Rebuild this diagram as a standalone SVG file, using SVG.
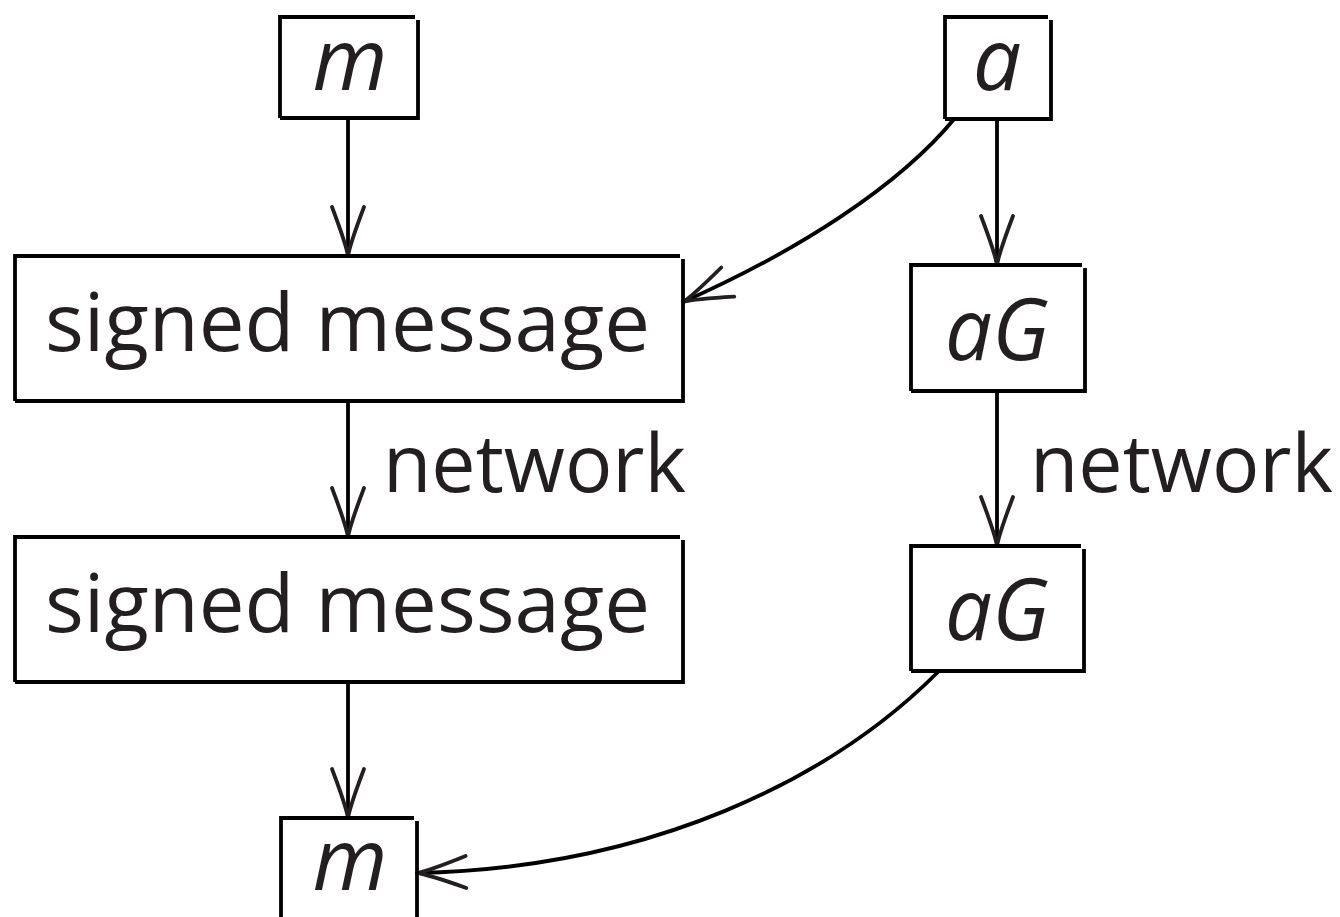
<svg xmlns="http://www.w3.org/2000/svg" width="1340" height="917" viewBox="0 0 1340 917">
  <defs>
    <style>
      .box { fill: none; stroke: #000; stroke-width: 3.8; stroke-linecap: butt; stroke-linejoin: miter; }
      .edge { fill: none; stroke: #000; stroke-width: 3.8; }
      .lbl { font-family: "Open Sans", "DejaVu Sans", sans-serif; font-size: 81px; fill: #231f20; }
      .math { font-family: "Open Sans", "DejaVu Sans", sans-serif; font-style: italic; font-size: 86px; fill: #231f20; }
    </style>
    <!-- TeX-style curved arrowhead, tip at the path end -->
    <marker id="tip" markerUnits="userSpaceOnUse" viewBox="-52 -20 56 40" refX="0" refY="0" markerWidth="56" markerHeight="40" orient="auto" overflow="visible">
      <path d="M -49,-16 Q -12,-2 0,0 M -49,16 Q -12,2 0,0" fill="none" stroke="#231f20" stroke-width="3.8" stroke-linecap="round"/>
    </marker>
  </defs>
  <rect width="1340" height="917" fill="#fff"/>

  <g id="connectors">
    <path class="edge" d="M348,118 V256" marker-end="url(#tip)"/>
    <path class="edge" d="M348,401 V537" marker-end="url(#tip)"/>
    <path class="edge" d="M348,682 V818" marker-end="url(#tip)"/>
    <path class="edge" d="M997,119 V265" marker-end="url(#tip)"/>
    <path class="edge" d="M997,391 V546" marker-end="url(#tip)"/>
    <path class="edge" d="M955,118 C900,185 800,250 683,302" marker-end="url(#tip)"/>
    <path class="edge" d="M938,672 C830,780 650,868 417,873" marker-end="url(#tip)"/>
    <text class="lbl" x="383" y="492" textLength="303" lengthAdjust="spacingAndGlyphs">network</text>
    <text class="lbl" x="1030" y="492" textLength="303" lengthAdjust="spacingAndGlyphs">network</text>
  </g>

  <g id="m-top">
    <path class="box" d="M280,118 V17 H415 M418,20 V118 H280"/>
    <text class="math" x="350" y="90" text-anchor="middle">m</text>
  </g>
  <g id="a-top">
    <path class="box" d="M945,119 V17 H1048 M1051,20 V119 H945"/>
    <text class="math" x="997" y="90" text-anchor="middle">a</text>
  </g>
  <g id="signed-1">
    <path class="box" d="M15,401 V256 H680 M683,259 V401 H15"/>
    <text class="lbl" x="45" y="351" textLength="605" lengthAdjust="spacingAndGlyphs">signed message</text>
  </g>
  <g id="aG-1">
    <path class="box" d="M911,391 V265 H1082 M1085,268 V391 H911"/>
    <text class="math" x="997" y="360" text-anchor="middle" textLength="104" lengthAdjust="spacingAndGlyphs">aG</text>
  </g>
  <g id="signed-2">
    <path class="box" d="M15,682 V537 H680 M683,540 V682 H15"/>
    <text class="lbl" x="45" y="632" textLength="605" lengthAdjust="spacingAndGlyphs">signed message</text>
  </g>
  <g id="aG-2">
    <path class="box" d="M911,671 V546 H1081 M1084,549 V671 H911"/>
    <text class="math" x="997" y="640" text-anchor="middle" textLength="104" lengthAdjust="spacingAndGlyphs">aG</text>
  </g>
  <g id="m-bottom">
    <path class="box" d="M281,917 V818 H414 M417,821 V917"/>
    <text class="math" x="350" y="890" text-anchor="middle">m</text>
  </g>
</svg>
